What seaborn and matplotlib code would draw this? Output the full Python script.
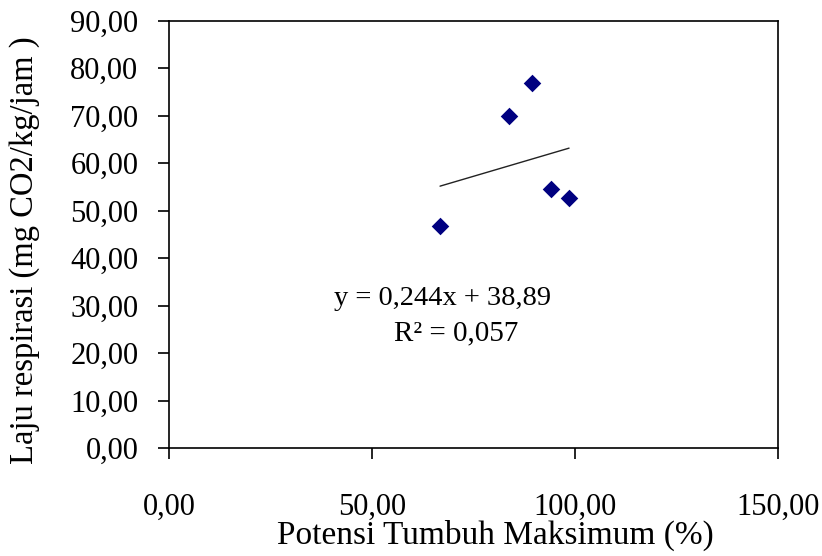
"""Scatter of respiration rate vs. maximum growth potential with a linear fit."""

import matplotlib

matplotlib.use("Agg")
import matplotlib.pyplot as plt
import pandas as pd
import seaborn as sns
from matplotlib.ticker import FuncFormatter

# values
potensi_tumbuh = [66.8, 83.9, 89.5, 94.1, 98.6]
laju_respirasi = [46.8, 70.0, 76.8, 54.5, 52.6]
x_ticks = [0, 50, 100, 150]
y_ticks = [0, 10, 20, 30, 40, 50, 60, 70, 80, 90]
persamaan = "y = 0,244x + 38,89"
r_kuadrat = "R² = 0,057"

df = pd.DataFrame({"x": potensi_tumbuh, "y": laju_respirasi})

sns.set_theme(style="white")
plt.rcParams["font.family"] = ["Liberation Serif", "DejaVu Serif"]

fig = plt.figure(figsize=(8.22, 5.56), dpi=100)
ax = fig.add_axes([0.2056, 0.194, 0.7404, 0.7688])

sns.regplot(data=df, x="x", y="y", scatter=False, ci=None, truncate=True,
            line_kws={"color": "#222222", "linewidth": 1.0}, ax=ax)
sns.scatterplot(data=df, x="x", y="y", marker="D", s=80, color="#000080",
                linewidth=0, ax=ax, zorder=3)

ax.set_xlim(0, 150)
ax.set_ylim(0, 90)
ax.set_xticks(x_ticks)
ax.set_yticks(y_ticks)
comma = FuncFormatter(lambda v, _: f"{v:.2f}".replace(".", ","))
ax.xaxis.set_major_formatter(comma)
ax.yaxis.set_major_formatter(comma)

ax.tick_params(axis="both", direction="out", length=8, width=1.2, color="black",
               labelsize=22, labelcolor="black")
ax.tick_params(axis="x", pad=24, bottom=True)
ax.tick_params(axis="y", pad=14, left=True)
for side in ["left", "bottom", "top", "right"]:
    ax.spines[side].set_visible(True)
    ax.spines[side].set_color("black")
    ax.spines[side].set_linewidth(1.2)

ax.set_xlabel("Potensi Tumbuh Maksimum (%)", fontsize=24, color="black")
ax.set_ylabel("Laju respirasi (mg CO2/kg/jam )", fontsize=23.5, color="black")
ax.xaxis.set_label_coords(0.537, -0.168)
ax.yaxis.set_label_coords(-0.212, 0.463)

ax.text(67.3, 31.6, persamaan, fontsize=20.5, ha="center", va="center", color="black")
ax.text(70.8, 24.2, r_kuadrat, fontsize=21, ha="center", va="center", color="black")

fig.savefig("out.png", dpi=100, facecolor="white")
plt.close(fig)
